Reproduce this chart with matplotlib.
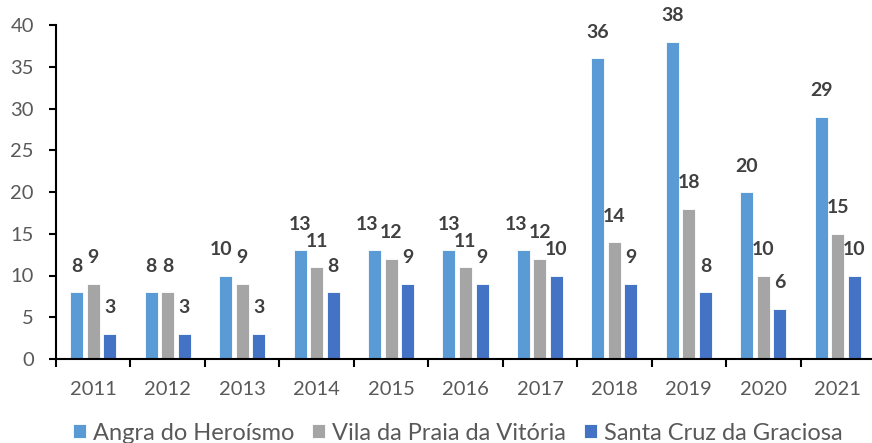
import matplotlib.pyplot as plt
import numpy as np

years = ["2011", "2012", "2013", "2014", "2015", "2016", "2017", "2018", "2019", "2020", "2021"]
angra = [8, 8, 10, 13, 13, 13, 13, 36, 38, 20, 29]
vila_praia = [9, 8, 9, 11, 12, 11, 12, 14, 18, 10, 15]
santa_cruz = [3, 3, 3, 8, 9, 9, 10, 9, 8, 6, 10]

series = [
    ("Angra do Heroísmo", angra, "#5B9BD5"),
    ("Vila da Praia da Vitória", vila_praia, "#A5A5A5"),
    ("Santa Cruz da Graciosa", santa_cruz, "#4472C4"),
]

# labels Excel pushed sideways to avoid crowding (series index, year index) -> px
label_nudge = {(0, 2): -5, (0, 4): -8, (0, 6): -7}

plt.rcParams["font.family"] = ["Lato", "DejaVu Sans"]

fig = plt.figure(figsize=(8.72, 4.43), dpi=100)
ax = fig.add_axes([56 / 872, 1 - 359 / 443, (875 - 56) / 872, (359 - 25) / 443])

x = np.arange(len(years))
width = 0.175
step = 0.222
for i, (name, vals, color) in enumerate(series):
    pos = x + (i - 1) * step
    bars = ax.bar(pos, vals, width=width, color=color, edgecolor="white",
                  linewidth=0.6, label=name, zorder=2)
    for j, (b, v) in enumerate(zip(bars, vals)):
        ax.annotate(str(v), (b.get_x() + b.get_width() / 2, v),
                    xytext=(label_nudge.get((i, j), 0), 26), textcoords="offset pixels",
                    ha="center", va="center", fontsize=14,
                    fontweight="bold", color="#404040")

ax.set_xlim(-0.5, len(years) - 0.5)
ax.set_ylim(0, 40)
ax.set_yticks(np.arange(0, 41, 5))
ax.set_xticks(x)
ax.set_xticklabels(years)
ax.set_xticks(np.arange(-0.5, len(years), 1), minor=True)

for side in ["top", "right"]:
    ax.spines[side].set_visible(False)
for side in ["left", "bottom"]:
    ax.spines[side].set_linewidth(1.5)
    ax.spines[side].set_color("black")

ax.tick_params(axis="y", length=5, width=1.5, labelsize=14.5, labelcolor="#595959", pad=11)
ax.tick_params(axis="x", which="major", length=0, labelsize=14.5, labelcolor="#595959", pad=16)
ax.tick_params(axis="x", which="minor", length=6, width=1.5)

fig.legend(*ax.get_legend_handles_labels(), loc="center",
           bbox_to_anchor=(458 / 872, 1 - 433 / 443), ncol=3, frameon=False,
           fontsize=17, handlelength=0.55, handleheight=0.55, handletextpad=0.3,
           columnspacing=0.76, labelcolor="#595959", borderpad=0, borderaxespad=0)

fig.savefig("out.png", dpi=100)
